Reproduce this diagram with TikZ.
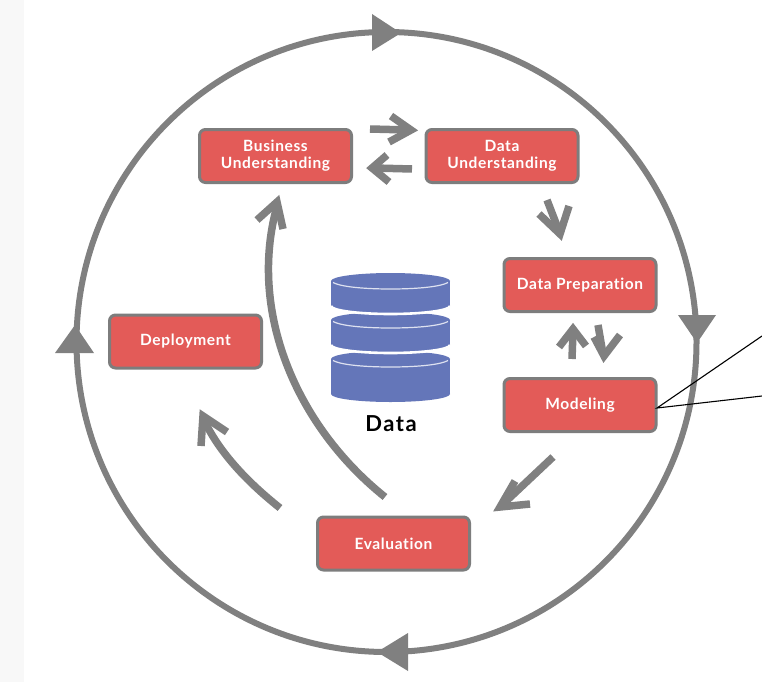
\documentclass[tikz,border=0pt]{standalone}
\usepackage{fontspec}
\setmainfont{Lato}
\newfontfamily\stagefont[LetterSpace=4,Ligatures=NoCommon]{Lato}
\newfontfamily\datafont[LetterSpace=7,Ligatures=NoCommon]{Lato}
\definecolor{boxred}{HTML}{E35B58}
\definecolor{boxline}{HTML}{7D7D7D}
\definecolor{arrowgray}{HTML}{808080}
\definecolor{dbblue}{HTML}{6476B9}
\definecolor{rimline}{HTML}{DDE1F0}
\definecolor{leftstrip}{HTML}{F8F8F8}
\begin{document}
\begin{tikzpicture}[x=1pt,y=-1pt,
  stage/.style={draw=boxline, fill=boxred, line width=3pt, rounded corners=6pt,
    minimum width=152pt, minimum height=53pt, inner sep=0pt, text=white,
    font=\stagefont\bfseries\fontsize{15.5}{17}\selectfont, align=center},
  flow/.style={draw=arrowgray, line width=7.5pt},
  chevron/.style={draw=arrowgray, line width=7.5pt, miter limit=10},
  ring/.style={draw=arrowgray, line width=6pt},
  ringtip/.style={fill=arrowgray},
  callout/.style={draw=black, line width=1.1pt},
  gap/.style={draw=white, line width=2.6pt},
  rim/.style={draw=rimline, line width=1.2pt}]
\useasboundingbox (0,0) rectangle (762,682);
\fill[white] (0,0) rectangle (762,682);
\fill[leftstrip] (0,0) rectangle (24,682);

% outer cycle
\coordinate (rc) at (386.5,342);
\draw[ring] (rc) circle[radius=310pt];
\fill[ringtip] (372,14) -- (401,33) -- (372,51) -- cycle;
\fill[ringtip] (678,315) -- (716,315) -- (697,343) -- cycle;
\fill[ringtip] (408,633) -- (377,652) -- (408,671) -- cycle;
\fill[ringtip] (55,353) -- (75,325) -- (94,353) -- cycle;

% stages
\node[stage] (BU) at (275.5,156) {Business\\Understanding};
\node[stage] (DU) at (502,156) {Data\\Understanding};
\node[stage] (DP) at (580,285) {Data Preparation};
\node[stage] (MO) at (580,405) {Modeling};
\node[stage] (DE) at (185.5,341.5) {Deployment};
\node[stage] (EV) at (393.5,543.5) {Evaluation};

% database
\foreach \tc/\bc/\g in {359/394/0, 320/345/1, 281/306/1}{
  \fill[dbblue] (331,\tc) rectangle (450,\bc);
  \fill[dbblue] (390.5,\bc) ellipse[x radius=59.5pt, y radius=8pt];
  \fill[dbblue] (390.5,\tc) ellipse[x radius=59.5pt, y radius=8pt];
  \ifnum\g=1
    \draw[gap] (331,\bc) .. controls (331,{\bc+4.4}) and (357.6,{\bc+8}) .. (390.5,{\bc+8})
      .. controls (423.4,{\bc+8}) and (450,{\bc+4.4}) .. (450,\bc);
  \fi
  \draw[rim] (333,{\tc+1.5}) .. controls (340,{\tc+5.5}) and (362,{\tc+8}) .. (390.5,{\tc+8})
      .. controls (419,{\tc+8}) and (441,{\tc+5.5}) .. (448,{\tc+1.5});
}
\node[font=\datafont\bfseries\fontsize{22}{22}\selectfont] (datalabel) at (391,424) {Data};

% flow arrows
\coordinate (a1s) at (370,129); \coordinate (a1e) at (409,130); \coordinate (a1v) at (411,130);
\draw[flow] (a1s) -- (a1e);
\draw[chevron] (391,116) -- (a1v) -- (389,142);

\coordinate (a2s) at (412,169); \coordinate (a2e) at (374,168); \coordinate (a2v) at (372,168);
\draw[flow] (a2s) -- (a2e);
\draw[chevron] (387,155) -- (a2v) -- (389,182);

\coordinate (a3s) at (547,200); \coordinate (a3e) at (559,231); \coordinate (a3v) at (560,234);
\draw[flow] (a3s) -- (a3e);
\draw[chevron] (539,214) -- (a3v) -- (569,206);

\coordinate (a4s) at (572,359); \coordinate (a4e) at (573,331); \coordinate (a4v) at (573,329);
\draw[flow] (a4s) -- (a4e);
\draw[chevron] (559,347) -- (a4v) -- (586,346);

\coordinate (a5s) at (598,325); \coordinate (a5e) at (603,354); \coordinate (a5v) at (604,356);
\draw[flow] (a5s) -- (a5e);
\draw[chevron] (594,337) -- (a5v) -- (620,335);

\coordinate (a6s) at (553,457); \coordinate (a6e) at (502,505); \coordinate (a6v) at (500,507);
\draw[flow] (a6s) -- (a6e);
\draw[chevron] (515,481) -- (a6v) -- (530,504);

\coordinate (a7s) at (280,508); \coordinate (a7v) at (203,416);
\draw[flow] (a7s) .. controls (255,488) and (222,458) .. (204,420);
\draw[chevron] (201,446) -- (a7v) -- (227,432);

\coordinate (a8s) at (385,497); \coordinate (a8v) at (277,202);
\draw[flow] (a8s) .. controls (295,425) and (248,310) .. (277,206);
\draw[chevron] (257,220) -- (a8v) -- (283,229);

% callout
\coordinate (co) at (657,408);
\coordinate (c1) at (762,336);
\coordinate (c2) at (762,396);
\draw[callout] (c1) -- (co) -- (c2);
\end{tikzpicture}
\end{document}
